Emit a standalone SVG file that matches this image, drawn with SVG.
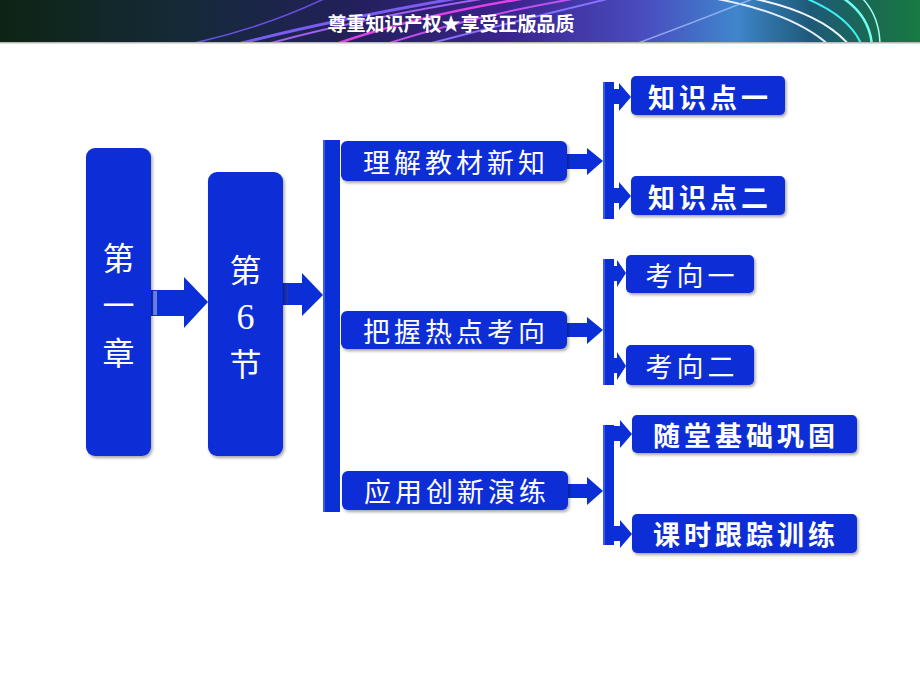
<svg xmlns="http://www.w3.org/2000/svg" width="920" height="690" viewBox="0 0 920 690">
<defs>
<linearGradient id="ban" x1="0" y1="0" x2="1" y2="0">
<stop offset="0" stop-color="#0d2414"/>
<stop offset="0.2" stop-color="#152a38"/>
<stop offset="0.38" stop-color="#22205a"/>
<stop offset="0.55" stop-color="#3a238c"/>
<stop offset="0.7" stop-color="#4a4cc0"/>
<stop offset="0.8" stop-color="#3f86cc"/>
<stop offset="0.88" stop-color="#1e5a78"/>
<stop offset="0.95" stop-color="#1a6a50"/>
<stop offset="1" stop-color="#187a44"/>
</linearGradient>
<filter id="sh" x="-10%" y="-10%" width="130%" height="130%">
<feDropShadow dx="1.5" dy="2" stdDeviation="1.5" flood-color="#000" flood-opacity="0.35"/>
</filter>
<clipPath id="bc"><rect x="0" y="0" width="920" height="42"/></clipPath>
</defs>
<style>
.box{fill:#0b2fd6;filter:url(#sh)}
.bar{fill:#0b2fd6}
.arr{fill:#0b2fd6}
.big{font-family:"Noto Sans CJK SC","Noto Sans CJK JP",sans-serif;font-size:32px;fill:#fff;text-anchor:middle;dominant-baseline:central}
.num{font-family:"Liberation Serif",serif;font-size:36px;fill:#fff;text-anchor:middle;dominant-baseline:central}
.lt{font-family:"Noto Sans CJK SC","Noto Sans CJK JP",sans-serif;font-size:27px;fill:#fff;text-anchor:middle;dominant-baseline:central;letter-spacing:4px}
.rt{font-family:"Noto Sans CJK SC","Noto Sans CJK JP",sans-serif;font-size:27px;fill:#fff;text-anchor:middle;dominant-baseline:central;letter-spacing:4px;font-weight:bold}
.rn{font-family:"Noto Sans CJK SC","Noto Sans CJK JP",sans-serif;font-size:27px;fill:#fff;text-anchor:middle;dominant-baseline:central;letter-spacing:4px}
.stripe{stroke:#c8d0f4;stroke-width:1}
</style>

<g id="banner">
<rect x="0" y="0" width="920" height="42" fill="url(#ban)"/>
<g clip-path="url(#bc)" fill="none">
<path d="M230 46 Q330 20 470 -4" stroke="#7a5cf0" stroke-width="3"/>
<path d="M260 46 Q360 18 500 -4" stroke="#a060f0" stroke-width="2"/>
<path d="M330 46 Q420 14 540 -4" stroke="#e040e8" stroke-width="2.5"/>
<path d="M380 46 Q470 16 590 -4" stroke="#c050f0" stroke-width="2"/>
<path d="M420 46 Q520 20 620 -4" stroke="#8a70ff" stroke-width="2"/>
<path d="M180 46 Q260 30 330 -4" stroke="#6a50e0" stroke-width="1.5"/>
<path d="M700 -4 Q790 10 830 46" stroke="#e6f0ff" stroke-width="2"/>
<path d="M740 -4 Q820 10 850 46" stroke="#f0f6ff" stroke-width="2"/>
<path d="M800 -4 Q850 15 862 46" stroke="#3ff0f0" stroke-width="2"/>
<path d="M840 -4 Q870 15 872 46" stroke="#6ffff0" stroke-width="2.5"/>
<path d="M860 -4 Q880 15 880 46" stroke="#a0fff0" stroke-width="1.5"/>
<path d="M630 46 Q700 20 760 -4" stroke="#b0c8ff" stroke-width="1.5" opacity="0.7"/>
</g>
<rect x="0" y="42" width="920" height="1.5" fill="#b8b8b8"/>
<text x="451" y="22" font-family="'Noto Sans CJK SC','Noto Sans CJK JP',sans-serif" font-size="19" font-weight="bold" fill="#fff" text-anchor="middle" dominant-baseline="central">尊重知识产权★享受正版品质</text>
</g>

<g id="connectors">
<polygon class="arr" points="151,290 184,290 184,277 208,302 184,328 184,316 151,316"/>
<line class="stripe" x1="154" y1="291" x2="154" y2="315"/>
<line class="stripe" x1="156" y1="291" x2="156" y2="315"/>
<polygon class="arr" points="283,283 302,283 302,273 323,295 302,316 302,305 283,305"/>
<line x1="285" y1="284" x2="285" y2="304" stroke="#2a3aa0" stroke-width="1"/>
<line x1="287" y1="284" x2="287" y2="304" stroke="#2a3aa0" stroke-width="1"/>
<rect class="bar" x="323" y="140" width="17" height="372"/>
<rect x="323" y="140" width="2" height="372" fill="#3a5ae8"/>

<polygon class="arr" points="567,154 587,154 587,148 603,161 587,175 587,169 567,169"/>
<polygon class="arr" points="567,323 587,323 587,317 603,330 587,344 587,337 567,337"/>
<polygon class="arr" points="568,484 587,484 587,477 603,491 587,505 587,498 568,498"/>

<rect class="bar" x="603" y="82" width="11" height="137"/>
<rect class="bar" x="603" y="259" width="11" height="126"/>
<rect class="bar" x="603" y="425" width="11" height="120"/>
<rect x="603" y="82" width="2" height="137" fill="#3a5ae8"/>
<rect x="603" y="259" width="2" height="126" fill="#3a5ae8"/>
<rect x="603" y="425" width="2" height="120" fill="#3a5ae8"/>

<polygon class="arr" points="608,89 619,89 619,83 631,97 619,111 619,104 608,104"/>
<polygon class="arr" points="608,188 619,188 619,182 631,196 619,210 619,203 608,203"/>
<polygon class="arr" points="608,266 617,266 617,260 626,273 617,287 617,281 608,281"/>
<polygon class="arr" points="608,358 617,358 617,352 626,366 617,380 617,373 608,373"/>
<polygon class="arr" points="608,426 620,426 620,420 632,434 620,448 620,441 608,441"/>
<polygon class="arr" points="608,526 620,526 620,520 632,534 620,548 620,541 608,541"/>
</g>

<g id="n-chapter">
<rect class="box" x="86" y="148" width="65" height="308" rx="9"/>
<text class="big" x="118.5" y="256">第</text>
<text class="big" x="118.5" y="303">一</text>
<text class="big" x="118.5" y="351">章</text>
</g>
<g id="n-section">
<rect class="box" x="208" y="172" width="75" height="284" rx="9"/>
<text class="big" x="245.5" y="268">第</text>
<text class="num" x="245.5" y="317">6</text>
<text class="big" x="245.5" y="362">节</text>
</g>

<g id="n-lijie">
<rect class="box" x="341" y="141" width="226" height="40" rx="6"/>
<text class="lt" x="456" y="161">理解教材新知</text>
</g>
<g id="n-bawo">
<rect class="box" x="341" y="311" width="226" height="38" rx="6"/>
<text class="lt" x="456" y="330">把握热点考向</text>
</g>
<g id="n-yingyong">
<rect class="box" x="342" y="471" width="226" height="39" rx="6"/>
<text class="lt" x="457" y="490">应用创新演练</text>
</g>

<g id="n-zsd1">
<rect class="box" x="631" y="76" width="154" height="39" rx="5"/>
<text class="rt" x="710" y="96">知识点一</text>
</g>
<g id="n-zsd2">
<rect class="box" x="631" y="176" width="154" height="39" rx="5"/>
<text class="rt" x="710" y="196">知识点二</text>
</g>
<g id="n-kx1">
<rect class="box" x="626" y="255" width="128" height="38" rx="5"/>
<text class="rn" x="692" y="274">考向一</text>
</g>
<g id="n-kx2">
<rect class="box" x="626" y="345" width="128" height="40" rx="5"/>
<text class="rn" x="692" y="365">考向二</text>
</g>
<g id="n-suitang">
<rect class="box" x="632" y="415" width="225" height="38" rx="5"/>
<text class="rt" x="746" y="434">随堂基础巩固</text>
</g>
<g id="n-keshi">
<rect class="box" x="632" y="514" width="225" height="39" rx="5"/>
<text class="rt" x="746" y="533">课时跟踪训练</text>
</g>
</svg>
